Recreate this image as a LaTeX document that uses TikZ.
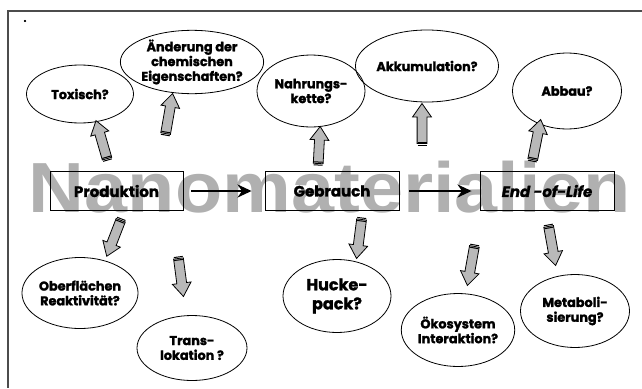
\documentclass[tikz,border=0pt]{standalone}
\usepackage{fontspec}
\setmainfont{Poppins}[BoldFeatures={FakeBold=1.6}, BoldItalicFeatures={FakeBold=1.6}]
\newfontfamily\wmfont{Liberation Sans}
\usetikzlibrary{shapes.arrows,shapes.geometric,calc,arrows.meta}
\tikzset{
  bubble/.style={draw, ellipse, inner sep=0pt, align=center, line width=0.8pt,
    font=\bfseries\fontsize{12.8}{14.8}\selectfont},
  stagebox/.style={draw, line width=0.9pt, inner sep=0pt, minimum height=39pt,
    font=\bfseries\fontsize{15}{18}\selectfont},
  flow/.style={line width=2.2pt, -{Stealth[length=14pt,width=13pt]}},
  blk/.style={single arrow, draw, line width=0.8pt, fill=gray!55, inner xsep=0pt,
    inner ysep=4.5pt, single arrow head extend=4.5pt, single arrow tip angle=70},
  stripe/.style={line width=1pt}
}
\newcommand\blockarrow[3]{%
  \path let \p1=($(#3)-(#2)$), \n1={atan2(\y1,\x1)}, \n2={veclen(\x1,\y1)} in
    node[blk, minimum height=\n2, rotate=\n1] (#1) at ($(#2)!0.5!(#3)$) {};
  \draw[stripe] ($(#2)!2pt!(#3)!4.5pt!90:(#3)$) -- ($(#2)!2pt!(#3)!4.5pt!-90:(#3)$);
  \draw[stripe] ($(#2)!5pt!(#3)!4.5pt!90:(#3)$) -- ($(#2)!5pt!(#3)!4.5pt!-90:(#3)$);
}
\begin{document}
\begin{tikzpicture}[x=1pt,y=-1pt]
\useasboundingbox (0,0) rectangle (642,388);
% frame
\coordinate (fr1) at (642,11);
\coordinate (fr2) at (8,11);
\coordinate (fr3) at (8,388);
\draw[line width=1.3pt, black!70] (fr1) -- (fr2) -- (fr3);
\node[inner sep=0pt, font=\bfseries\fontsize{10}{10}\selectfont] (dot) at (25,21) {.};
% watermark
\node[anchor=base, inner sep=0pt, xscale=1.09, text=gray!62,
  font=\wmfont\bfseries\fontsize{71}{71}\selectfont] (wm) at (330,212) {Nanomaterialien};
% stage boxes
\node[stagebox, minimum width=133pt] (prod) at (116.5,191) {Produktion};
\node[stagebox, minimum width=134pt] (gebr) at (332,191) {Gebrauch};
\node[stagebox, minimum width=134pt] (eol) at (547,191) {\itshape End -of-Life};
\draw[flow, shorten <=8pt, shorten >=13pt] (prod.east) -- (gebr.west);
\draw[flow, shorten <=10pt, shorten >=8pt] (gebr.east) -- (eol.west);
% bubbles
\node[bubble, minimum width=107pt, minimum height=58pt] (tox) at (80,94) {Toxisch?};
\node[bubble, minimum width=108pt, minimum height=60pt] (aend) at (192,62) {Änderung der\\chemischen\\Eigenschaften?};
\node[bubble, minimum width=108pt, minimum height=72pt] (nahr) at (311,91) {Nahrungs-\\kette?};
\node[bubble, minimum width=108pt, minimum height=72pt] (akku) at (427,66) {Akkumulation?};
\node[bubble, minimum width=109pt, minimum height=76pt] (abb) at (567,91) {Abbau?};
\node[bubble, minimum width=109pt, minimum height=71pt] (ober) at (80,293) {Oberflächen\\Reaktivität?};
\node[bubble, minimum width=110pt, minimum height=65pt] (trans) at (192,348) {Trans-\\lokation ?};
\node[bubble, minimum width=108pt, minimum height=73pt,
  font=\bfseries\fontsize{16}{19}\selectfont] (huck) at (337,296) {Hucke-\\pack?};
\node[bubble, minimum width=109pt, minimum height=73pt] (oeko) at (458,330) {Ökosystem\\Interaktion?};
\node[bubble, minimum width=109pt, minimum height=73pt] (meta) at (575,311) {Metaboli-\\sierung?};
% block arrows
\blockarrow{a1}{108,162}{97,124}
\blockarrow{a2}{165,137}{172,97}
\blockarrow{a3}{318,167}{320,130}
\blockarrow{a4}{422,147}{422,107}
\blockarrow{a5}{532,163}{540,123}
\blockarrow{a6}{122,217}{108,253}
\blockarrow{a7}{178,255}{183,293}
\blockarrow{a8}{362,216}{357,255}
\blockarrow{a9}{475,243}{468,282}
\blockarrow{a10}{548,223}{555,262}
\end{tikzpicture}
\end{document}
